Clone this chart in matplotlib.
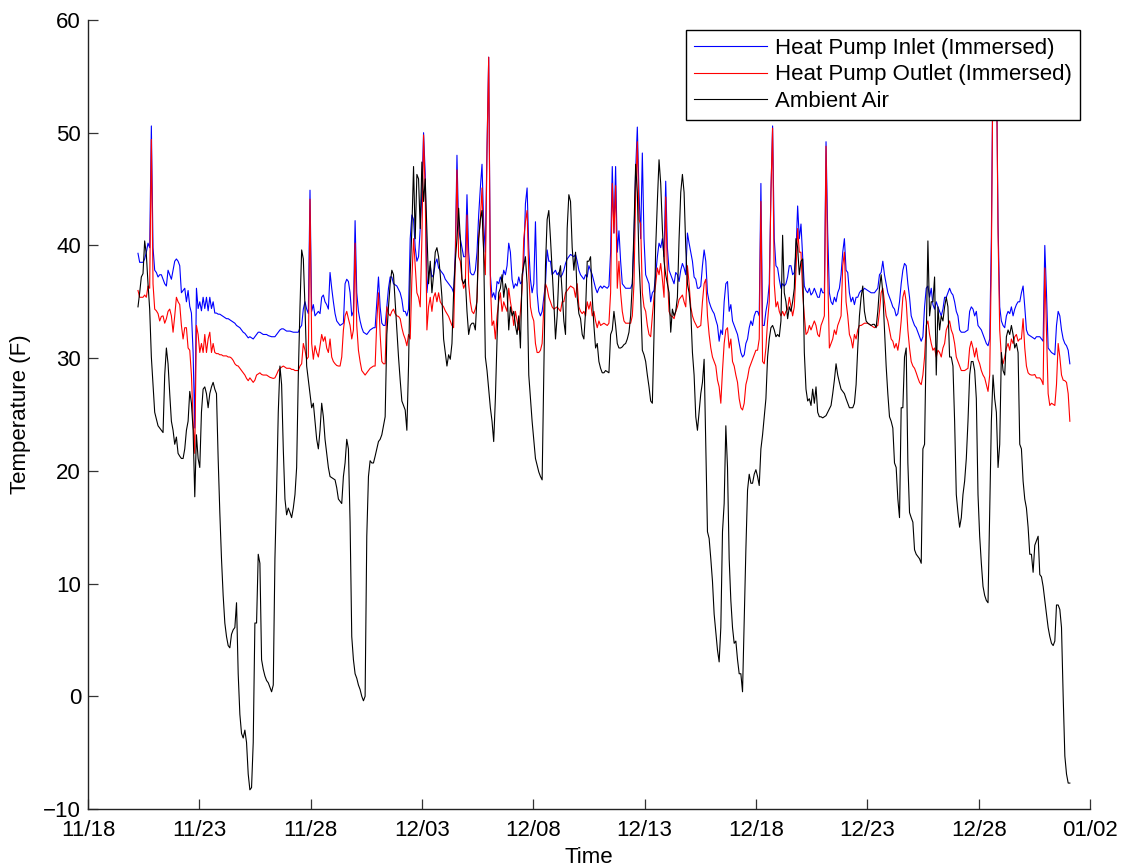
import matplotlib
matplotlib.use("Agg")
import matplotlib.pyplot as plt
import matplotlib.dates as mdates
import pandas as pd

plt.rcParams['font.family'] = ['Liberation Sans', 'DejaVu Sans']

# logger readings, one sample every 108 minutes from the start time
start = "2013-11-20 05:53"
step = "108min"

inlet = [
    39.3, 38.5, 38.5, 38.5, 38.8, 39.4, 40.2, 39.8, 50.6, 39.8,
    37.8, 37.6, 37.2, 37.4, 37.4, 37.0, 36.6, 36.4, 37.8, 37.4,
    37.0, 37.8, 38.6, 38.8, 38.6, 38.2, 35.8, 36.0, 36.2, 35.0,
    36.0, 34.6, 34.0, 30.5, 23.8, 36.2, 34.4, 35.0, 34.2, 35.4,
    34.4, 35.4, 34.2, 35.4, 34.4, 35.0, 34.0, 34.0, 33.9, 33.9,
    33.8, 33.7, 33.6, 33.5, 33.5, 33.4, 33.3, 33.2, 33.1, 32.9,
    32.8, 32.7, 32.5, 32.3, 32.2, 32.0, 31.8,
    31.9, 31.8, 31.7, 31.9, 32.1, 32.3, 32.3, 32.2, 32.1, 32.1,
    32.1, 32.0, 31.95, 31.9, 31.9, 31.9, 32.1, 32.3, 32.5, 32.6,
    32.6, 32.5, 32.4, 32.4, 32.4, 32.35, 32.3, 32.3, 32.3, 32.3,
    32.7, 32.9, 34.35, 35.0, 34.35, 33.95, 44.9, 34.15, 34.75, 33.75,
    33.95, 34.15, 33.95, 35.4, 35.6, 35.0, 34.75, 34.35, 37.6, 36.2,
    35.0, 33.95, 33.3, 33.1, 32.9, 33.0, 33.1, 36.6, 37.0, 36.8,
    35.8, 33.75, 34.15, 42.2, 35.8, 34.15, 33.3, 32.7, 32.3, 32.2,
    32.1, 32.3, 32.5, 32.6, 32.7, 32.7, 35.0, 37.2, 34.55, 33.1,
    32.9, 32.9, 34.55, 36.2, 37.2, 37.2, 36.6, 36.5, 36.4, 36.1,
    35.8, 35.2, 34.15, 34.15, 33.75, 34.35,
    40.6, 42.7, 42.3, 39.8, 38.6, 39.0, 41.5, 44.7, 50.0, 46.3,
    35.8, 37.4, 38.2, 37.2, 37.4, 38.4, 38.8, 38.0, 37.8, 37.6,
    37.4, 37.0, 36.8, 36.6, 36.4, 36.2, 35.8, 39.4, 48.0, 41.5,
    40.6, 39.8, 39.0, 39.0, 44.5, 39.4, 37.6, 37.4, 37.4, 37.8,
    39.4, 42.7, 45.1, 47.2, 41.9, 39.4, 48.8, 56.7, 37.4, 35.4,
    35.8, 35.2, 36.8, 36.6, 37.2, 36.8, 37.8, 37.4, 38.2, 40.2,
    39.4, 37.0, 36.2, 36.6, 36.4, 37.2, 36.6, 36.8, 38.6, 43.7,
    45.1, 39.8, 37.0, 35.8, 36.6, 42.1, 35.8, 34.15, 33.75, 34.15,
    35.4, 36.6, 39.6, 38.6, 38.6, 37.4, 37.6, 37.8, 37.4, 37.6,
    37.2, 37.4, 37.8, 38.4, 38.8, 39.0,
    39.2, 39.1, 39.0, 39.2, 38.6, 37.8, 37.4, 37.2, 37.0, 37.4,
    37.2, 38.2, 37.8, 37.4, 36.8, 36.2, 35.8, 36.2, 36.4, 36.2,
    36.4, 36.3, 36.2, 36.4, 39.4, 47.0, 41.1, 47.0, 39.4, 41.3,
    38.6, 36.6, 36.4, 36.2, 36.2, 36.2, 36.2, 36.6, 40.6, 46.7,
    50.5, 44.7, 40.6, 48.2, 40.6, 37.4, 37.0, 36.6, 35.0, 35.8,
    36.0, 37.4, 39.0, 40.2, 39.8, 40.6, 39.0, 45.7, 39.8, 37.8,
    37.4, 37.0, 36.6, 37.6, 37.4, 36.8, 37.8, 38.4, 38.0, 37.4,
    41.1, 40.2, 39.4, 38.6, 37.2, 37.0, 36.2, 36.2, 36.4, 38.2,
    39.6, 38.6, 35.8, 35.0, 34.55, 34.2, 33.95, 33.4, 32.9, 31.5,
    32.5, 32.1, 35.0, 36.6, 36.8, 34.15,
    34.75, 33.3, 32.9, 32.5, 32.1, 31.3, 30.5, 30.1, 30.3, 31.3,
    31.7, 32.7, 33.3, 32.9, 33.75, 34.15, 34.15, 33.75, 45.5, 32.9,
    32.9, 34.15, 35.0, 36.6, 44.7, 50.6, 40.6, 38.2, 38.0, 37.0,
    36.2, 36.6, 36.4, 36.6, 37.2, 38.2, 38.2, 37.4, 37.6, 39.4,
    43.5, 40.6, 41.9, 39.0, 36.4, 36.0, 35.8, 36.2, 35.6, 35.8,
    36.2, 35.8, 35.4, 35.4, 36.2, 35.8, 35.8, 49.2, 41.1, 35.8,
    35.0, 34.75, 35.4, 35.0, 35.8, 36.2, 37.4, 39.4, 40.6, 37.8,
    37.6, 35.8, 35.0, 35.4, 34.75, 35.4, 35.4, 35.8, 36.0, 36.0,
    36.2, 36.1, 36.0, 35.9, 35.8, 35.8, 35.8, 36.0, 36.2, 37.4,
    37.6, 38.6, 37.4, 36.6, 35.8, 35.4,
    35.0, 34.55, 34.35, 33.75, 33.95, 35.0, 36.6, 37.8, 38.4, 38.2,
    36.6, 35.4, 33.75, 33.3, 32.9, 32.7, 32.3, 31.9, 31.5, 31.9,
    34.55, 36.2, 36.4, 35.4, 36.2, 34.75, 34.35, 35.0, 34.55, 34.15,
    33.75, 34.35, 35.4, 35.4, 35.8, 36.2, 35.8, 35.6, 35.0, 34.15,
    33.75, 32.5, 32.3, 32.3, 32.3, 32.4, 32.5, 34.15, 34.55, 34.35,
    33.75, 34.15, 32.9, 32.7, 32.5, 32.1, 31.7, 31.3, 31.1, 31.7,
    40.6, 57.0, 59.0, 57.0, 42.0, 34.55, 33.3, 32.9, 32.7, 33.75,
    34.15, 33.95, 34.55, 33.75, 34.35, 34.75, 35.0, 35.0, 35.8, 36.4,
    34.55, 32.5, 32.1, 32.0, 31.9, 31.8, 31.7, 31.9, 31.9, 31.9,
    31.7, 31.5, 40.0, 35.8, 30.9, 30.7, 30.5, 30.4, 30.3, 32.9,
    34.15, 33.75, 32.5, 31.7, 31.3, 31.1, 30.7, 29.5,
]

outlet = [
    36.0, 35.4, 35.4, 35.4, 35.6, 35.4, 36.4, 36.2, 49.4, 36.6,
    34.35, 34.2, 33.95, 33.3, 33.7, 33.75, 33.1, 33.5, 34.15, 34.35,
    33.75, 32.3, 33.75, 35.4, 35.0, 34.75, 32.9, 31.7, 32.7, 32.7,
    30.9, 30.7, 28.5, 24.4, 21.55, 32.9, 32.1, 30.5, 31.3, 30.5,
    32.1, 30.5, 31.7, 32.3, 30.5, 31.3, 30.5, 30.4, 30.4, 30.3,
    30.3, 30.2, 30.2, 30.2, 30.1, 30.1, 30.0, 29.8, 29.5, 29.35,
    29.3, 29.1, 28.9, 28.7, 28.5, 28.2, 28.0,
    28.25, 28.05, 27.85, 28.05, 28.5, 28.6, 28.7, 28.55, 28.5, 28.5,
    28.5, 28.4, 28.3, 28.25, 28.2, 28.25, 28.55, 28.9, 29.1, 29.2,
    29.3, 29.2, 29.1, 29.1, 29.1, 29.0, 29.0, 28.9, 28.9, 28.9,
    29.3, 29.5, 31.3, 30.7, 29.9, 30.1, 44.1, 31.3, 29.9, 31.1,
    30.5, 30.1, 31.1, 32.1, 31.5, 31.9, 30.9, 30.5, 31.7, 30.1,
    29.7, 29.5, 29.35, 29.3, 29.3, 30.1, 32.5, 33.75, 34.15, 33.5,
    32.9, 31.7, 32.5, 40.2, 32.9, 30.7, 29.7, 28.9, 28.7, 28.5,
    28.7, 28.9, 29.1, 29.2, 29.3, 29.3, 33.3, 35.8, 32.1, 29.7,
    29.5, 29.5, 34.55, 33.95, 33.75, 34.15, 34.35, 33.95, 33.75, 33.7,
    33.5, 32.7, 32.1, 31.7, 31.1, 32.1,
    31.7, 37.0, 40.6, 38.2, 35.8, 35.4, 34.55, 40.6, 49.8, 44.7,
    32.5, 34.55, 35.4, 34.15, 35.4, 35.8, 35.0, 35.8, 35.0, 34.75,
    34.55, 34.2, 33.95, 33.7, 33.3, 32.9, 32.7, 38.6, 46.7, 39.0,
    38.6, 37.0, 36.2, 36.6, 42.7, 36.6, 35.0, 34.15, 33.95, 34.35,
    35.0, 40.6, 42.3, 45.1, 39.4, 37.4, 48.4, 56.7, 36.6, 32.9,
    33.3, 31.7, 33.75, 35.0, 35.8, 34.15, 35.0, 34.55, 34.15, 36.2,
    35.0, 34.15, 32.9, 34.15, 33.3, 32.5, 34.15, 36.2, 40.6, 42.1,
    43.1, 37.4, 34.55, 33.75, 33.3, 31.3, 30.5, 30.5, 30.7, 31.3,
    34.55, 36.6, 36.2, 35.4, 35.0, 34.55, 34.35, 34.45, 34.55, 34.35,
    34.15, 35.0, 35.0, 35.8, 36.0, 36.2,
    36.4, 36.3, 36.2, 35.4, 36.6, 34.55, 34.15, 33.95, 34.15, 33.75,
    35.0, 34.35, 35.0, 33.75, 34.15, 33.3, 32.7, 33.3, 32.9, 33.0,
    33.1, 33.0, 32.9, 33.1, 35.8, 45.5, 41.1, 45.3, 36.2, 38.6,
    35.8, 34.15, 33.3, 33.1, 33.1, 33.1, 33.1, 33.75, 36.6, 44.7,
    49.2, 42.3, 41.9, 35.8, 34.55, 34.15, 32.9, 32.1, 31.9, 33.75,
    35.4, 36.6, 38.0, 37.4, 38.4, 37.0, 35.4, 44.3, 37.4, 34.15,
    33.75, 33.7, 33.5, 34.15, 34.55, 35.2, 35.4, 35.6, 35.0, 34.55,
    38.2, 36.6, 34.55, 33.75, 33.3, 33.0, 32.7, 32.8, 32.9, 35.0,
    36.6, 37.0, 33.75, 32.1, 30.9, 30.1, 29.7, 29.3, 28.05, 27.45,
    26.0, 28.9, 31.3, 32.5, 32.7, 30.9,
    31.7, 29.7, 29.3, 28.5, 27.85, 26.4, 25.6, 25.4, 26.0, 27.65,
    28.25, 29.1, 29.5, 29.9, 30.3, 30.7, 30.7, 31.7, 43.9, 29.7,
    29.5, 30.9, 33.3, 35.0, 44.7, 50.4, 36.6, 34.55, 35.0, 34.15,
    33.75, 34.15, 33.75, 34.15, 34.35, 35.4, 34.55, 33.75, 34.55, 37.8,
    41.5, 39.4, 39.4, 35.8, 33.75, 32.1, 32.3, 32.9, 32.5, 32.9,
    33.3, 32.9, 32.1, 31.9, 32.9, 33.3, 33.75, 48.8, 37.4, 30.9,
    31.3, 31.7, 32.5, 32.1, 32.9, 33.3, 33.75, 38.2, 39.4, 35.0,
    33.75, 32.1, 31.7, 30.9, 32.1, 31.7, 32.5, 32.9, 32.9, 33.0,
    33.1, 33.1, 33.1, 33.0, 32.9, 32.8, 32.7, 32.8, 32.9, 34.15,
    35.8, 36.2, 35.0, 33.75, 33.3, 32.5,
    31.7, 31.5, 30.9, 31.3, 30.7, 31.7, 33.3, 35.4, 36.0, 35.0,
    32.5, 30.9, 29.7, 29.3, 29.1, 28.7, 28.25, 27.85, 27.65, 28.5,
    30.1, 32.9, 33.3, 32.1, 31.3, 30.7, 30.9, 30.1, 30.7, 30.5,
    30.1, 30.9, 31.3, 32.5, 32.9, 33.3, 32.5, 32.1, 31.3, 30.1,
    29.7, 29.3, 28.9, 28.9, 28.9, 29.0, 29.1, 30.9, 31.5, 30.9,
    30.1, 30.9, 29.9, 29.5, 28.9, 28.5, 28.25, 27.65, 27.05, 28.5,
    38.6, 57.0, 59.0, 57.0, 41.0, 32.5, 30.1, 29.5, 30.1, 30.9,
    31.3, 30.7, 31.7, 31.3, 31.9, 32.1, 31.5, 31.7, 31.7, 33.5,
    30.9, 29.3, 28.7, 28.55, 28.5, 28.5, 28.55, 28.25, 28.25, 28.25,
    28.05, 27.65, 38.0, 32.5, 26.85, 25.8, 26.0, 25.9, 25.8, 27.65,
    31.3, 30.1, 28.5, 28.05, 28.0, 27.85, 26.85, 24.4,
]

ambient = [
    34.55, 35.8, 37.2, 37.5, 40.4, 39.2, 36.6, 34.35, 30.1, 27.65,
    25.2, 24.6, 24.0, 23.8, 23.6, 23.4, 28.5, 30.9, 29.5, 26.85,
    24.4, 23.6, 22.36, 23.0, 21.55, 21.3, 21.1, 21.1, 21.95, 23.6,
    24.4, 27.05, 26.0, 23.6, 17.7, 23.2, 21.1, 20.3, 25.2, 27.25,
    27.45, 26.85, 25.6, 26.85, 27.45, 27.85, 27.25, 26.85, 21.1, 16.3,
    12.2, 8.95, 6.5, 5.3, 4.5, 4.3, 5.5, 5.9, 6.1, 8.3,
    2.0, -1.6, -3.3, -3.7, -3.0, -4.1, -6.9,
    -8.3, -8.1, -4.1, 6.5, 6.5, 12.6, 11.8, 3.25, 2.4, 1.8,
    1.4, 1.2, 0.8, 0.4, 1.0, 12.2, 18.3, 25.2, 29.3, 27.65,
    21.95, 17.5, 16.1, 16.7, 16.3, 15.85, 16.7, 17.9, 20.3, 28.5,
    34.55, 39.6, 38.8, 34.55, 29.3, 28.05, 26.85, 25.6, 26.0, 24.4,
    22.8, 21.95, 23.6, 26.0, 24.8, 22.8, 21.55, 20.3, 19.5, 19.4,
    19.3, 19.2, 18.5, 17.5, 17.3, 17.1, 19.5, 20.7, 22.8, 21.95,
    15.45, 5.3, 3.25, 2.0, 1.6, 1.0, 0.6, 0.0, -0.4, 0.0,
    14.2, 19.5, 20.9, 20.7, 20.7, 21.3, 21.95, 22.6, 22.8, 23.2,
    24.0, 24.8, 32.1, 34.55, 36.6, 37.8, 37.4, 35.0, 32.5, 30.1,
    28.05, 26.2, 25.8, 25.4, 23.6, 29.3,
    37.4, 41.5, 47.0, 40.6, 46.3, 45.9, 41.5, 47.4, 43.9, 45.9,
    41.1, 36.6, 38.6, 35.8, 37.4, 39.4, 39.8, 39.0, 37.4, 35.4,
    31.7, 30.5, 29.3, 30.3, 29.9, 31.3, 35.8, 38.6, 40.6, 43.3,
    40.6, 37.0, 36.6, 37.0, 34.15, 32.1, 32.9, 33.1, 33.1, 32.5,
    35.4, 40.6, 42.3, 43.1, 39.4, 30.1, 28.9, 27.25, 25.6, 24.4,
    22.6, 26.4, 31.7, 35.8, 36.2, 37.4, 35.4, 36.6, 36.0, 32.5,
    34.55, 33.75, 34.15, 32.9, 32.1, 33.75, 30.9, 37.4, 38.2, 39.0,
    36.6, 28.5, 26.4, 24.4, 22.8, 21.1, 20.5, 19.9, 19.5, 19.2,
    28.5, 38.2, 42.3, 43.1, 40.6, 37.8, 35.0, 31.7, 33.75, 37.4,
    38.2, 35.8, 33.3, 32.1, 41.5, 44.5,
    43.9, 39.8, 37.8, 39.4, 35.4, 33.95, 33.5, 32.1, 31.7, 34.15,
    38.6, 38.6, 39.0, 35.4, 32.9, 30.9, 31.3, 29.7, 29.1, 28.7,
    28.7, 28.9, 28.8, 28.7, 32.1, 32.5, 34.15, 32.9, 31.3, 30.9,
    30.9, 31.0, 31.2, 31.3, 31.7, 32.3, 33.75, 36.6, 41.5, 47.2,
    44.7, 38.6, 35.4, 30.7, 30.3, 29.7, 28.5, 27.45, 26.2, 26.0,
    32.1, 39.8, 43.9, 47.6, 45.5, 41.5, 38.6, 37.4, 36.6, 35.8,
    32.3, 34.35, 33.75, 34.15, 35.4, 40.6, 44.7, 46.3, 44.7, 39.8,
    36.6, 35.8, 34.15, 30.5, 28.5, 24.8, 23.6, 25.2, 26.85, 27.85,
    29.9, 22.36, 14.6, 14.0, 12.2, 10.2, 7.3, 5.7, 4.1, 3.05,
    6.1, 14.6, 17.1, 24.0, 20.3, 12.2,
    8.5, 6.1, 4.7, 4.9, 3.25, 2.0, 2.0, 0.4, 6.9, 13.0,
    18.3, 19.7, 18.9, 18.9, 19.7, 20.1, 19.5, 18.7, 21.95, 23.2,
    24.8, 26.4, 30.1, 31.7, 32.7, 32.9, 32.5, 31.9, 32.1, 31.9,
    33.3, 40.9, 35.8, 35.0, 33.5, 34.55, 34.15, 35.0, 36.2, 40.6,
    39.8, 37.4, 38.6, 38.8, 30.5, 27.25, 26.2, 26.4, 25.8, 27.25,
    26.0, 27.45, 25.2, 24.8, 24.8, 24.7, 24.8, 24.9, 25.2, 25.5,
    25.8, 26.85, 28.05, 29.5, 28.5, 27.85, 27.25, 27.05, 26.85, 26.4,
    26.0, 25.6, 25.6, 25.6, 26.0, 27.65, 30.9, 33.75, 35.4, 36.4,
    34.15, 33.3, 33.1, 33.0, 32.9, 33.0, 33.0, 32.7, 34.15, 36.2,
    37.4, 35.8, 32.5, 29.3, 26.85, 24.8,
    24.4, 23.8, 20.7, 20.3, 17.5, 15.85, 25.6, 25.6, 30.1, 30.9,
    20.7, 16.3, 15.85, 15.45, 13.0, 12.6, 12.4, 12.2, 11.8, 21.95,
    22.36, 31.7, 40.4, 33.75, 35.0, 35.0, 37.2, 28.5, 34.55, 32.5,
    33.75, 33.3, 34.55, 35.4, 34.55, 30.1, 30.1, 29.3, 24.4, 17.9,
    16.3, 15.0, 15.85, 17.9, 19.1, 21.1, 24.4, 28.5, 29.7, 29.7,
    28.9, 26.4, 17.9, 14.2, 11.8, 9.75, 8.95, 8.5, 8.3, 16.3,
    24.4, 28.5, 26.4, 25.2, 20.3, 22.36, 30.5, 28.9, 28.5, 31.9,
    32.5, 32.1, 32.9, 32.1, 30.9, 31.3, 30.5, 22.36, 21.95, 19.1,
    17.5, 16.7, 15.0, 12.6, 12.6, 11.0, 13.4, 13.8, 14.2, 10.8,
    10.6, 9.75, 8.5, 7.3, 6.1, 5.3, 4.7, 4.5, 4.9, 8.1,
    8.1, 7.7, 6.1, 0.0, -5.3, -6.9, -7.7, -7.7,
]

labels = ["Heat Pump Inlet (Immersed)", "Heat Pump Outlet (Immersed)", "Ambient Air"]
colors = ["blue", "red", "black"]
tick_dates = pd.date_range("2013-11-18", "2014-01-02", freq="5D")

fig = plt.figure(figsize=(11.27, 8.68), dpi=100)
ax = fig.add_axes([88 / 1127, 59 / 868, 1002 / 1127, 789 / 868])

for series, lab, col in zip([inlet, outlet, ambient], labels, colors):
    t = pd.date_range(start, periods=len(series), freq=step)
    ax.plot(t, series, color=col, lw=0.8, label=lab)

ax.set_xlim(tick_dates[0], tick_dates[-1])
ax.set_ylim(-10, 60)
ax.set_xticks(tick_dates)
ax.xaxis.set_major_formatter(mdates.DateFormatter('%m/%d'))
ax.set_yticks(range(-10, 61, 10))

for side in ['top', 'right']:
    ax.spines[side].set_visible(False)
for side in ['left', 'bottom']:
    ax.spines[side].set_color('#222222')
    ax.spines[side].set_linewidth(1.0)
ax.tick_params(direction='in', length=7, width=0.9, color='#333333', labelsize=16)
ax.tick_params(axis='x', pad=8)
ax.tick_params(axis='y', pad=5)

ax.set_xlabel("Time", fontsize=16, labelpad=4)
ax.set_ylabel("Temperature (F)", fontsize=16, labelpad=9)

leg = ax.legend(loc='upper right', fontsize=16, fancybox=False, framealpha=1,
                edgecolor='black', borderaxespad=0.45, handlelength=3.3,
                handletextpad=0.36, labelspacing=0.25, borderpad=0.35)
leg.get_frame().set_linewidth(1.0)

fig.savefig("out.png", dpi=100)
